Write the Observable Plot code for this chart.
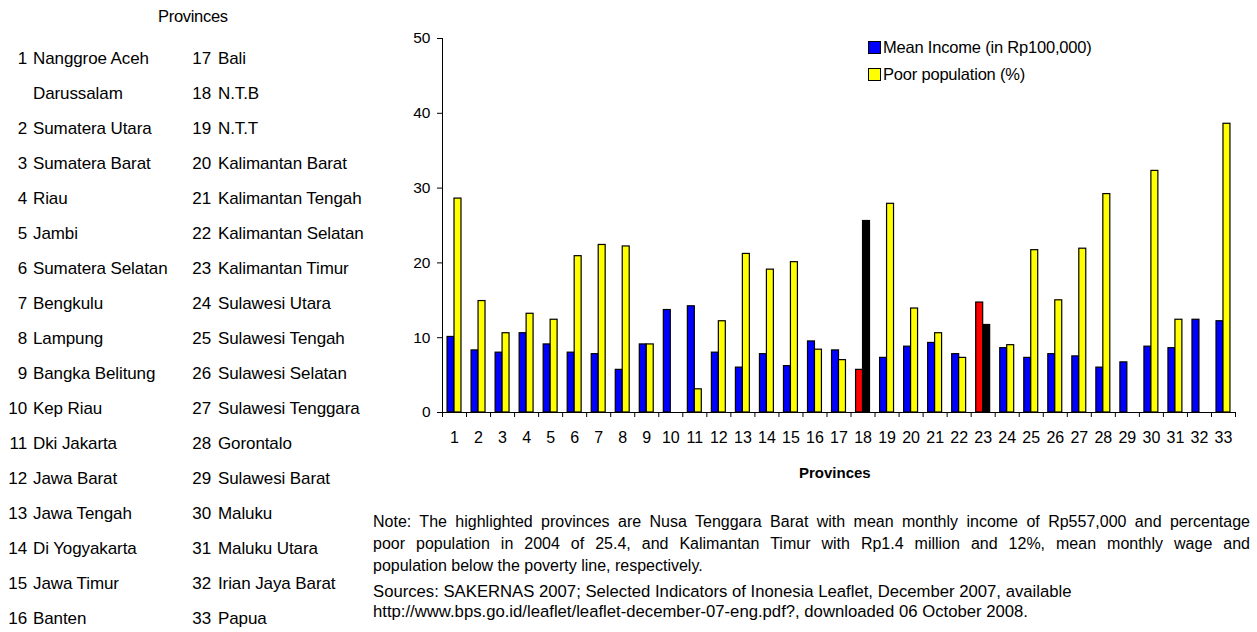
<!DOCTYPE html>
<html>
<head>
<meta charset="utf-8">
<script src="https://cdn.jsdelivr.net/npm/d3@7"></script>
<script src="https://cdn.jsdelivr.net/npm/@observablehq/plot@0.6"></script>
<style>
  html, body { margin: 0; padding: 0; background: #fff; }
  body { font-family: "Liberation Sans", Arial, sans-serif; color: #000; }
  #wrap { position: relative; width: 1257px; height: 632px; overflow: hidden; }
  #chart { position: absolute; left: 0; top: 0; }
  .abs { position: absolute; white-space: nowrap; }
  #listTitle { left: 158px; top: 7px; font-size: 16.5px; letter-spacing: -0.3px; }
  .row { position: absolute; font-size: 17px; letter-spacing: -0.1px; line-height: 20px; white-space: nowrap; }
  .num { position: absolute; text-align: right; }
  .legend-item { position: absolute; font-size: 16.5px; letter-spacing: -0.2px; line-height: 18px; white-space: nowrap; }
  .sw { display: inline-block; width: 11px; height: 11px; border: 1px solid #000; vertical-align: -1px; margin-right: 2px; }
  #xtitle { left: 799px; top: 464px; font-size: 15px; font-weight: bold; }
  #note { position: absolute; left: 373px; top: 511px; width: 877px; font-size: 16px; line-height: 22px; }
  #note .jl { text-align: justify; text-align-last: justify; white-space: nowrap; }
  #note .ll { text-align: left; white-space: nowrap; }
  #sources { position: absolute; left: 373px; top: 582px; font-size: 16.7px; line-height: 20px; white-space: nowrap; }
</style>
</head>
<body>
<div id="wrap">
  <div id="chart"></div>
</div>
<script>
// ---- data ----
const provinces = [1,2,3,4,5,6,7,8,9,10,11,12,13,14,15,16,17,18,19,20,21,22,23,24,25,26,27,28,29,30,31,32,33];
const provinceNames = [
  "Nanggroe Aceh Darussalam", "Sumatera Utara", "Sumatera Barat", "Riau", "Jambi",
  "Sumatera Selatan", "Bengkulu", "Lampung", "Bangka Belitung", "Kep Riau",
  "Dki Jakarta", "Jawa Barat", "Jawa Tengah", "Di Yogyakarta", "Jawa Timur",
  "Banten", "Bali", "N.T.B", "N.T.T", "Kalimantan Barat", "Kalimantan Tengah",
  "Kalimantan Selatan", "Kalimantan Timur", "Sulawesi Utara", "Sulawesi Tengah",
  "Sulawesi Selatan", "Sulawesi Tenggara", "Gorontalo", "Sulawesi Barat",
  "Maluku", "Maluku Utara", "Irian Jaya Barat", "Papua"
];
const meanIncome = [10.1, 8.3, 8.0, 10.6, 9.1, 8.0, 7.8, 5.7, 9.1, 13.7, 14.2, 8.0, 6.0, 7.8, 6.2, 9.5,
                    8.3, 5.7, 7.3, 8.8, 9.3, 7.8, 14.7, 8.6, 7.3, 7.8, 7.5, 6.0, 6.7, 8.8, 8.6, 12.4, 12.2];
const poorPopulation = [28.6, 14.9, 10.6, 13.2, 12.4, 20.9, 22.4, 22.2, 9.1, null, 3.1, 12.2, 21.2, 19.1, 20.1, 8.4,
                        7.0, 25.6, 27.9, 13.9, 10.6, 7.3, 11.7, 9.0, 21.7, 15.0, 21.9, 29.2, null, 32.3, 12.4, null, 38.6];
const highlighted = [18, 23];
const yTicks = [0, 10, 20, 30, 40, 50];
const seriesNames = ["Mean Income (in Rp100,000)", "Poor population (%)"];
const colors = { income: "#0000ff", poor: "#ffff00", incomeHi: "#ff0000", poorHi: "#000000" };
const noteLines = [
  "Note: The highlighted provinces are Nusa Tenggara Barat with mean monthly income of Rp557,000 and percentage",
  "poor population in 2004 of 25.4, and Kalimantan Timur with Rp1.4 million and 12%, mean monthly wage and",
  "population below the poverty line, respectively."
];
const sourceLines = ["Sources: SAKERNAS 2007; Selected Indicators of Inonesia Leaflet, December 2007, available",
                     "http://www.bps.go.id/leaflet/leaflet-december-07-eng.pdf?, downloaded 06 October 2008."];

// ---- build table ----
const incomeData = provinces.map((p, i) => ({p, v: meanIncome[i], hi: highlighted.includes(p)}));
const poorData = provinces.map((p, i) => ({p, v: poorPopulation[i], hi: highlighted.includes(p)})).filter(d => d.v != null);
const boundaries = d3.range(provinces.length + 1).map(i => provinces[0] - 0.5 + i);
const half = 0.29;

const chart = Plot.plot({
  width: 1257,
  height: 490,
  marginLeft: 442,
  marginRight: 22,
  marginTop: 38,
  marginBottom: 78,
  style: { fontFamily: "'Liberation Sans', Arial, sans-serif", fontSize: "15.5px", color: "#000", background: "transparent" },
  x: { type: "linear", domain: [0.5, 33.5] },
  y: { domain: [0, 50] },
  marks: [
    Plot.rectY(incomeData, { x1: d => d.p - half, x2: d => d.p, y: "v",
      fill: d => d.hi ? colors.incomeHi : colors.income, stroke: "#000", strokeWidth: 1.2 }),
    Plot.rectY(poorData, { x1: d => d.p, x2: d => d.p + half, y: "v",
      fill: d => d.hi ? colors.poorHi : colors.poor, stroke: "#000", strokeWidth: 1.2 }),
    Plot.ruleY([0], { stroke: "#000", strokeWidth: 1 }),
    Plot.ruleX([0.5], { stroke: "#000", strokeWidth: 1 }),
    Plot.axisY({ ticks: yTicks, tickSize: 5, tickPadding: 7, label: null, strokeWidth: 1 }),
    Plot.axisX({ ticks: provinces, tickSize: 0, tickPadding: 19, tickFormat: d => String(d), label: null, fontSize: 16 }),
    Plot.axisX({ ticks: boundaries, tickSize: 5, tickFormat: () => "", label: null })
  ]
});
const wrap = document.getElementById("wrap");
document.getElementById("chart").appendChild(chart);

// x-axis title
const xt = document.createElement("div");
xt.className = "abs"; xt.id = "xtitle"; xt.textContent = "Provinces";
wrap.appendChild(xt);

// legend
[["income", 38], ["poor", 65]].forEach(([k, top], i) => {
  const el = document.createElement("div");
  el.className = "legend-item";
  el.style.left = "868px"; el.style.top = top + "px";
  el.innerHTML = `<span class="sw" style="background:${colors[k]}"></span>` + seriesNames[i];
  wrap.appendChild(el);
});

// province list
const lt = document.createElement("div");
lt.className = "abs"; lt.id = "listTitle"; lt.textContent = "Provinces";
wrap.appendChild(lt);
const rowPitch = 35, firstRowCenter = 59;
function addEntry(num, name, col, row) {
  const top = firstRowCenter + row * rowPitch - 10;
  const n = document.createElement("div");
  n.className = "row num";
  n.style.top = top + "px";
  if (col === 0) { n.style.left = "0px"; n.style.width = "27px"; }
  else { n.style.left = "170px"; n.style.width = "41px"; }
  n.textContent = num;
  wrap.appendChild(n);
  const t = document.createElement("div");
  t.className = "row";
  t.style.top = top + "px";
  t.style.left = (col === 0 ? 33 : 218) + "px";
  t.textContent = name;
  wrap.appendChild(t);
}
// column 1: provinces 1..16 (first name spans two rows)
let r = 0;
provinces.slice(0, 16).forEach((p, i) => {
  const name = provinceNames[i];
  if (i === 0) {
    const parts = name.split(" ");
    addEntry(String(p), parts.slice(0, 2).join(" "), 0, r); r++;
    addEntry("", parts.slice(2).join(" "), 0, r); r++;
  } else { addEntry(String(p), name, 0, r); r++; }
});
provinces.slice(16).forEach((p, i) => addEntry(String(p), provinceNames[16 + i], 1, i));

// note & sources
const note = document.getElementById("wrap").appendChild(document.createElement("div"));
note.id = "note";
noteLines.forEach((line, i) => {
  const d = document.createElement("div");
  d.className = i < noteLines.length - 1 ? "jl" : "ll";
  d.textContent = line;
  note.appendChild(d);
});
const src = document.createElement("div");
src.id = "sources"; src.innerHTML = sourceLines.join("<br>"); wrap.appendChild(src);
</script>
</body>
</html>
